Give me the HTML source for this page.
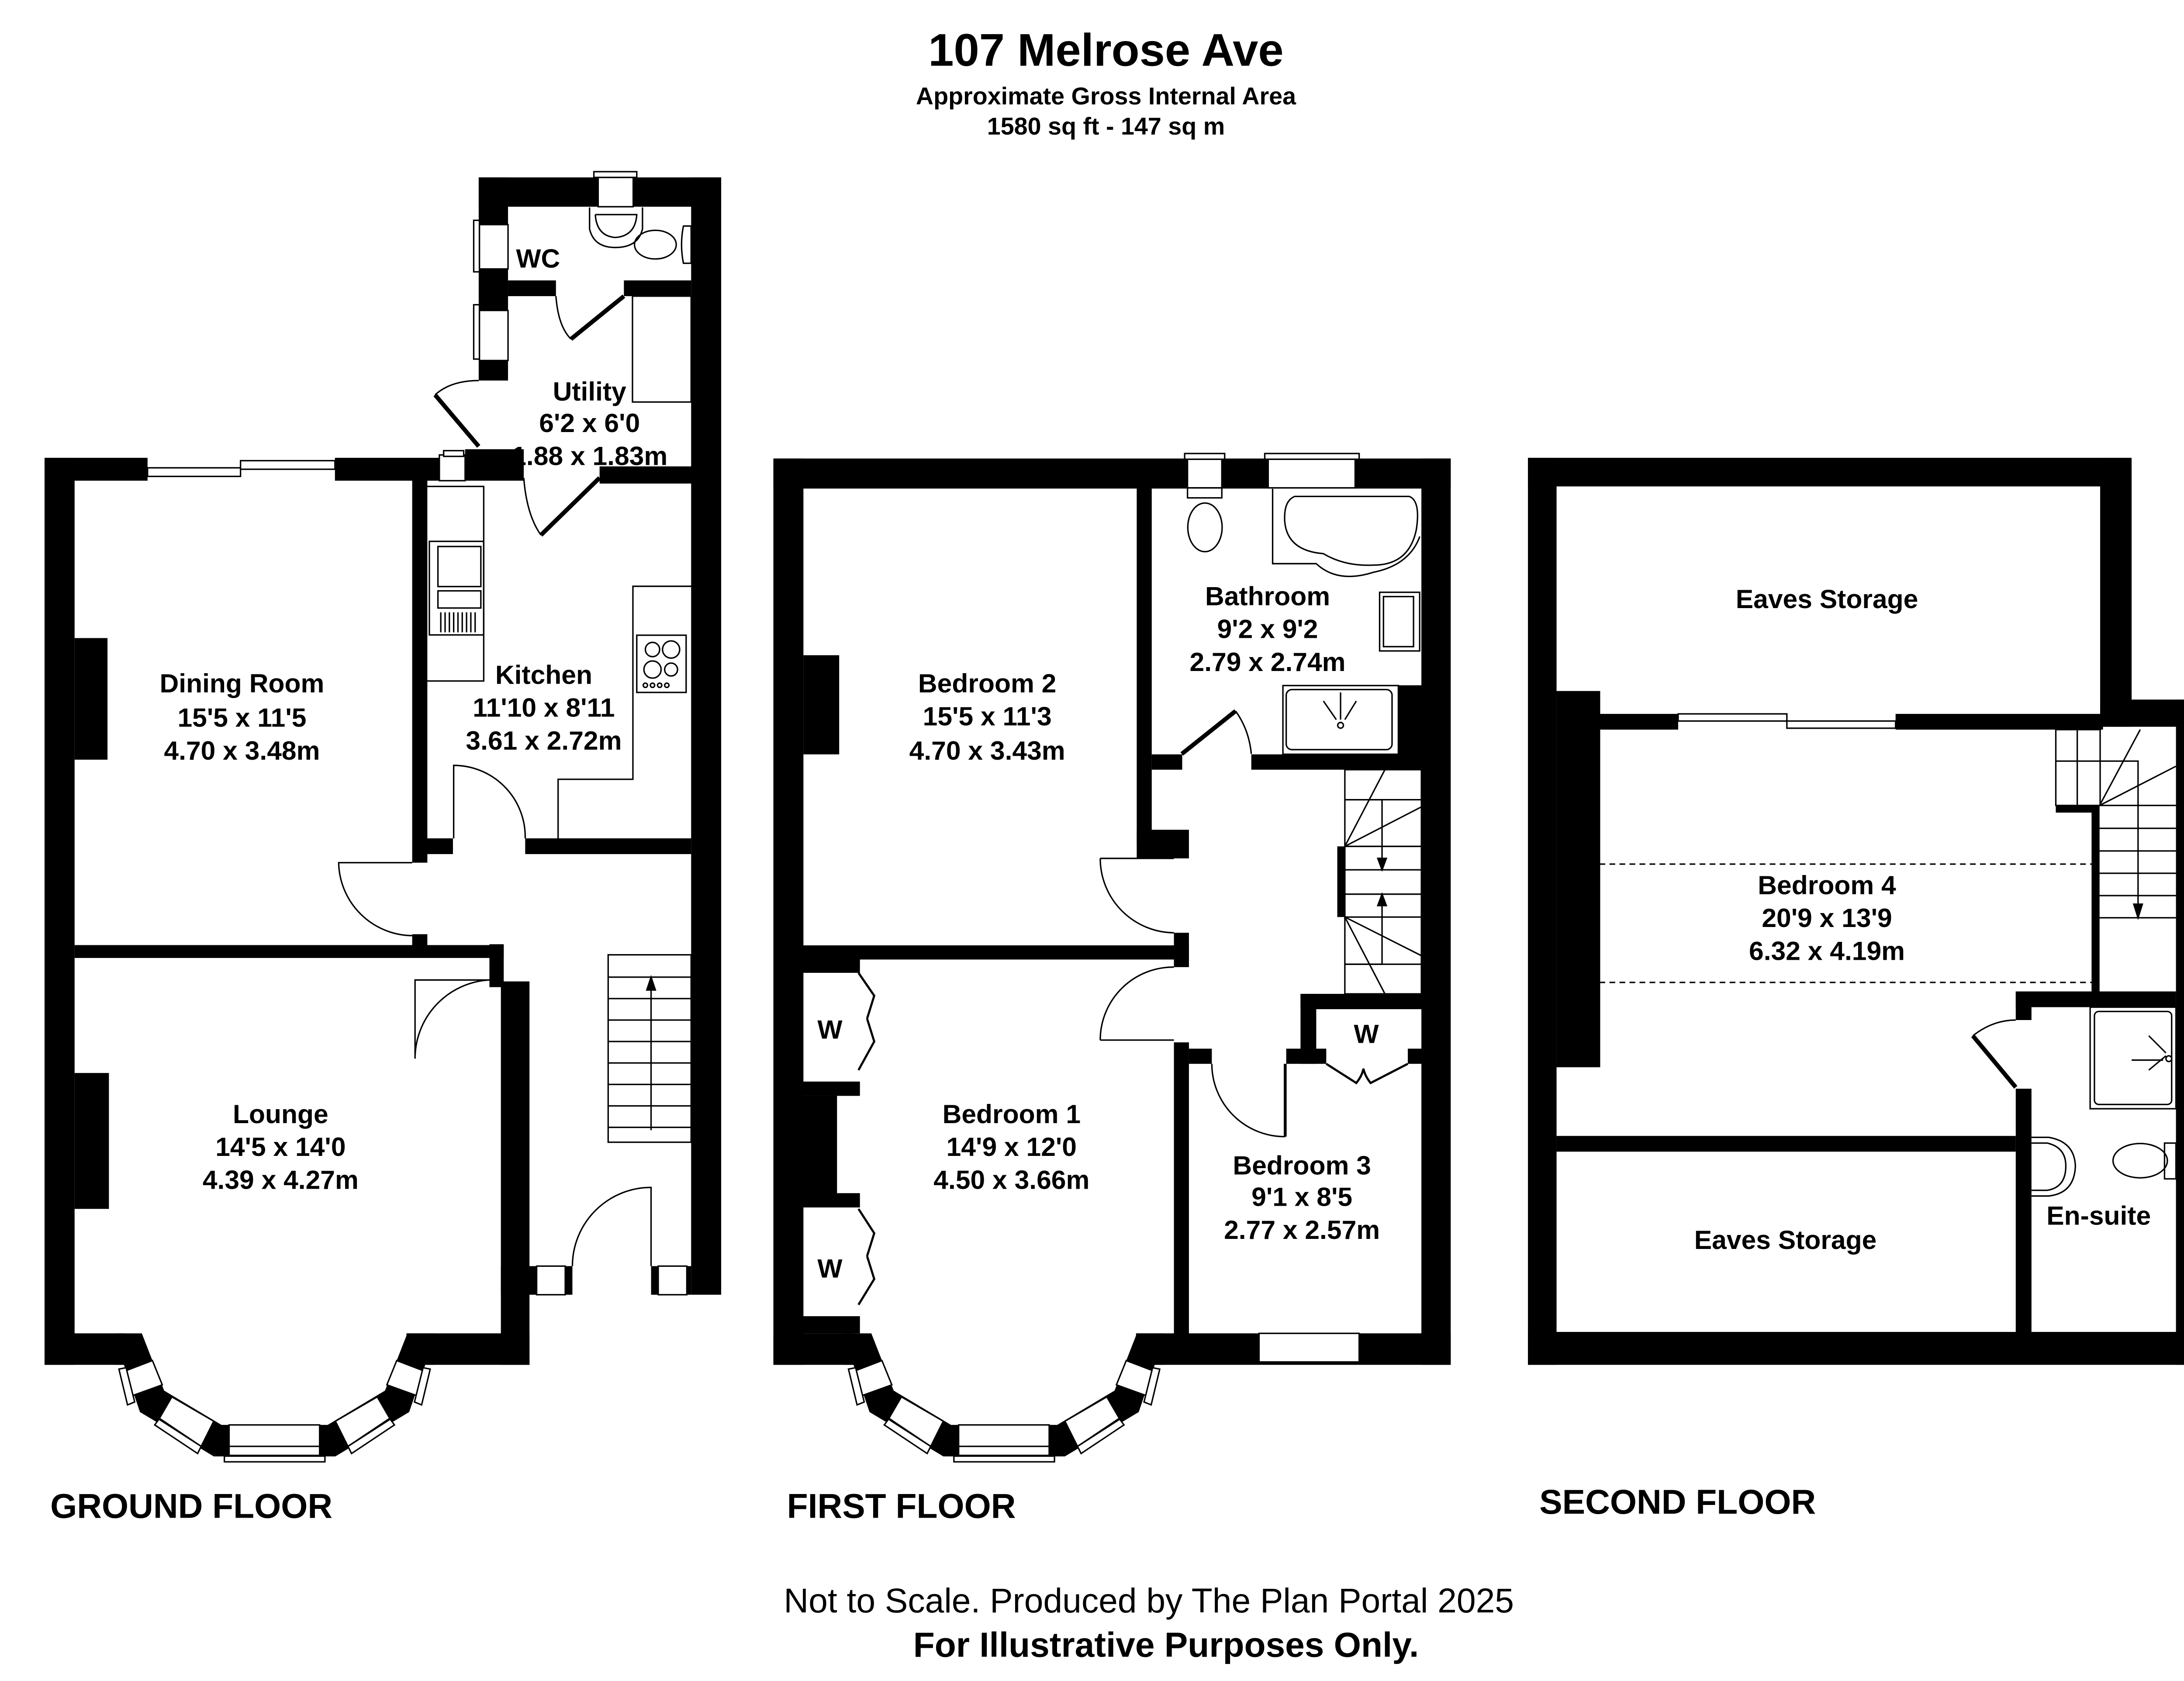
<!DOCTYPE html>
<html><head><meta charset="utf-8"><style>
html,body{margin:0;padding:0;background:#fff}
svg{display:block}
text{font-family:"Liberation Sans",Arial,sans-serif;font-weight:bold;fill:#000;text-anchor:middle}
</style></head><body>
<svg width="5136" height="3848" viewBox="0 0 1568 1175" xmlns="http://www.w3.org/2000/svg">
<rect width="1568" height="1175" fill="#fff"/>
<text x="773" y="46" font-size="32">107 Melrose Ave</text>
<text x="773" y="73" font-size="17">Approximate Gross Internal Area</text>
<text x="773" y="94" font-size="17">1580 sq ft - 147 sq m</text>

<defs>
<g id="bayhalf">
<polygon points="80,932 99,932 114.6,972 154.7,996 191.8,996 191.8,1018 149.3,1018 97.7,987 86.5,954 80,954" fill="#000"/>
<polygon points="106.4,951 113.3,968 92.8,975.4 86,958.8" fill="#fff" stroke="#000" stroke-width="1"/>
<polygon points="88,956 83,957 89,982 94,980" fill="#fff" stroke="#000" stroke-width="1"/>
<polygon points="120,976.4 149.3,993.4 140.5,1011 111.3,991.4" fill="#fff" stroke="#000" stroke-width="1"/>
<polygon points="111,992 108,996 138,1016 140.5,1011" fill="#fff" stroke="#000" stroke-width="1"/>
</g>
<g id="bay">
<use href="#bayhalf"/>
<use href="#bayhalf" transform="matrix(-1 0 0 1 383.6 0)"/>
<rect x="160" y="996" width="63.3" height="21.3" fill="#fff" stroke="#000" stroke-width="1"/>
<line x1="160" y1="1011" x2="223.3" y2="1011" stroke="#000" stroke-width="1"/>
<rect x="156.7" y="1017.8" width="70.3" height="4" fill="#fff" stroke="#000" stroke-width="1"/>
</g>
</defs>

<g fill="#000">
<!-- GROUND FLOOR -->
<rect x="31" y="320" width="21" height="634"/>
<rect x="31" y="320" width="72" height="16"/>
<rect x="234" y="320" width="73" height="16"/>
<rect x="325" y="314" width="41" height="22"/>
<rect x="419" y="326" width="65" height="12"/>
<rect x="334.5" y="124" width="169.5" height="20.5"/>
<rect x="334.5" y="124" width="20.5" height="142"/>
<rect x="483" y="124" width="21" height="781"/>
<rect x="355" y="196" width="33.5" height="11"/>
<rect x="436" y="196" width="47" height="11"/>
<rect x="288" y="334" width="10.6" height="269"/>
<rect x="298" y="586" width="18.5" height="11"/>
<rect x="367" y="586" width="116" height="11"/>
<rect x="288" y="653" width="10.6" height="10"/>
<rect x="52" y="660.6" width="300" height="9"/>
<rect x="342" y="660" width="10" height="30"/>
<rect x="350" y="686" width="20" height="268"/>
<rect x="350" y="885" width="50" height="20"/>
<rect x="455" y="885" width="28" height="20"/>
<rect x="31" y="932" width="56" height="22"/>
<rect x="284" y="932" width="86" height="22"/>
<rect x="52" y="446" width="23" height="85"/>
<rect x="52" y="750" width="24" height="95"/>
<!-- FIRST FLOOR -->
<rect x="540.5" y="320.5" width="21" height="633.5"/>
<rect x="540.5" y="320.5" width="473.5" height="21"/>
<rect x="993.5" y="320.5" width="20.5" height="633.5"/>
<rect x="540.5" y="932" width="56" height="22"/>
<rect x="794" y="932" width="220" height="22"/>
<rect x="794.5" y="341" width="10.5" height="250"/>
<rect x="794.5" y="580" width="36.5" height="20"/>
<rect x="820.5" y="652" width="10.5" height="24"/>
<rect x="561" y="660.8" width="270" height="9.9"/>
<rect x="820.5" y="728.6" width="10.5" height="204"/>
<rect x="805" y="527.3" width="21.3" height="10.7"/>
<rect x="874.6" y="527.3" width="119" height="10.7"/>
<rect x="977" y="479" width="17" height="59"/>
<rect x="934.7" y="591.6" width="5.5" height="49.4"/>
<rect x="909" y="694.7" width="85" height="10.7"/>
<rect x="909" y="694.7" width="11" height="48.9"/>
<rect x="831" y="733" width="16" height="10.6"/>
<rect x="899" y="733" width="28" height="10.6"/>
<rect x="984" y="733" width="10" height="10.6"/>
<rect x="561.5" y="458" width="25" height="69.3"/>
<rect x="561" y="668" width="40" height="12"/>
<rect x="561" y="756" width="40" height="10"/>
<rect x="561" y="766" width="24" height="70"/>
<rect x="561" y="834" width="40" height="10"/>
<rect x="561" y="920" width="40" height="12"/>
<!-- SECOND FLOOR -->
<rect x="1068" y="320" width="420" height="20"/>
<rect x="1068" y="320" width="20" height="634"/>
<rect x="1468" y="320" width="22" height="188"/>
<rect x="1468" y="489" width="74" height="19"/>
<rect x="1521" y="489" width="21" height="465"/>
<rect x="1068" y="931" width="474" height="23"/>
<rect x="1088" y="483" width="30.5" height="263"/>
<rect x="1118" y="499" width="55" height="11"/>
<rect x="1325" y="499" width="145" height="11"/>
<rect x="1437" y="563" width="30" height="5"/>
<rect x="1462" y="563" width="5.6" height="135"/>
<rect x="1409" y="693" width="112" height="11"/>
<rect x="1409" y="693" width="11" height="20"/>
<rect x="1409" y="761" width="11" height="171"/>
<rect x="1088" y="794" width="321" height="11"/>
</g>

<use href="#bay"/>
<use href="#bay" transform="translate(510 0)"/>

<g fill="#fff" stroke="#000" stroke-width="1">
<!-- windows ground -->
<rect x="103" y="327" width="65" height="6"/><rect x="168" y="322" width="66" height="6"/>
<rect x="307" y="318" width="18" height="18"/><rect x="310" y="315" width="14" height="4"/>
<rect x="418" y="124" width="24.5" height="20.5"/><rect x="415" y="120" width="30" height="4"/>
<rect x="335" y="157" width="20" height="31"/><rect x="331" y="154" width="4" height="36"/>
<rect x="335" y="217" width="20" height="35"/><rect x="331" y="213" width="4" height="38"/>
<rect x="375" y="885" width="20" height="20"/><rect x="460" y="885" width="20" height="20"/>
<!-- windows first -->
<rect x="830" y="321" width="24" height="20"/><rect x="828" y="317" width="28" height="4"/>
<rect x="886.4" y="321" width="60.8" height="20"/><rect x="884" y="317" width="66" height="4"/>
<rect x="880" y="932" width="70" height="20"/>
<!-- second window -->
<rect x="1173" y="499" width="76" height="5"/><rect x="1249" y="504" width="76" height="5"/>
</g>

<g fill="none" stroke="#000" stroke-width="1">
<!-- ground doors -->
<path d="M334.5,266 Q315,266 304,276"/>
<path d="M304,276 L334.5,312" stroke-width="3"/>
<path d="M388.5,207 Q390,228 399,237"/>
<path d="M399,237 L436,207" stroke-width="3"/>
<path d="M419,334 L378,374" stroke-width="3"/>
<path d="M366,334 Q368,360 378,374"/>
<path d="M317,586 L317,535 A50,50 0 0 1 367,586"/>
<path d="M288,603 L236.6,603 A52,52 0 0 0 288,654"/>
<path d="M342,685 L290,685 L290,740 A55,55 0 0 1 342,685"/>
<path d="M455,885 L455,830 A55,55 0 0 0 400,885"/>
<!-- utility / wc fixtures -->
<rect x="442" y="207" width="41" height="74"/>
<path d="M412,145 L412,160 Q415,173 430,173 Q446,173 449,160 L449,145"/>
<path d="M416,150 L445,150 Q444,165 430,166 Q417,165 416,150"/>
<ellipse cx="458" cy="171" rx="14.6" ry="10"/>
<path d="M477.6,158 Q475,171 477.6,184 L483,184 L483,158 Z"/>
<!-- kitchen -->
<path d="M298.6,340 L338,340 L338,476 L298.6,476"/>
<rect x="300" y="378.4" width="38" height="65.4"/>
<rect x="306" y="382" width="30" height="28"/><rect x="306" y="413" width="30" height="12"/>
<path d="M308,428 V442 M311,428 V442 M314,428 V442 M317,428 V442 M320,428 V442 M323,428 V442 M326,428 V442 M329,428 V442 M332,428 V442"/>
<path d="M484,409.8 L442.3,409.8 L442.3,544.7 L390,544.7 L390,586"/>
<rect x="445" y="444" width="34.5" height="40"/>
<circle cx="456" cy="454" r="5"/><circle cx="469" cy="454" r="6"/><circle cx="456" cy="468" r="6"/><circle cx="469" cy="468" r="4.5"/>
<circle cx="451" cy="479" r="1.5"/><circle cx="456" cy="479" r="1.5"/><circle cx="461" cy="479" r="1.5"/><circle cx="466" cy="479" r="1.5"/>
<!-- ground stairs -->
<rect x="425" y="667.4" width="58" height="131"/>
<path d="M425,683 H483 M425,698 H483 M425,713 H483 M425,728 H483 M425,743 H483 M425,758 H483 M425,773 H483 M425,788 H483 M455,790 V685"/>
<path d="M452,692 L455,683 L458,692 Z" fill="#000"/>
<!-- first floor doors -->
<path d="M769,600 L820.5,600 M769,600 A52,52 0 0 0 820.5,652"/>
<path d="M769,727 L820.5,727 M769,727 A51,51 0 0 1 820.5,676"/>
<path d="M826,527 L863.6,497" stroke-width="3"/>
<path d="M863.6,497 Q873,510 874.6,527"/>
<path d="M898.3,743.6 L898.3,794.5" stroke-width="2"/>
<path d="M847,743.6 A51,51 0 0 0 898.3,794.5"/>
<path d="M927,743.6 L948,757 Q952,752 953,747 Q954,752 958,757 L984,743.6" stroke-width="1.5"/>
<path d="M600,680 L611,696 L606,712 M600,748 L611,728 L606,712" stroke-width="1.5"/>
<path d="M600,845 L611,862 L606,878 M600,912 L611,894 L606,878" stroke-width="1.5"/>
<!-- first floor stairs -->
<rect x="940" y="538" width="53.5" height="156.7"/>
<path d="M940,559 H993.5 M940,591.6 H993.5 M940,608 H993.5 M940,625 H993.5 M940,641 H993.5 M940,674 H993.5"/>
<path d="M940,591.6 L968,538 M940,591.6 L993.5,564 M940,641 L993.5,668 M940,641 L968,694.7"/>
<path d="M966,559 L966,608 M966,625 L966,674 L940,674 M940,559 L966,559"/>
<path d="M963,600 L966,608 L969,600 Z M963,633 L966,625 L969,633 Z" fill="#000"/>
<!-- bathroom -->
<rect x="830" y="341" width="24" height="7"/>
<ellipse cx="842.2" cy="368.6" rx="12" ry="17"/>
<path d="M889.5,341.7 L889.5,394 L920,394 Q935,408 960,400 Q985,395 992.4,375 M889.5,394 L889.5,341.7"/>
<path d="M905,347 L985,347 Q993,350 990,370 Q985,395 960,395 Q940,396 925,387 Q900,385 898,365 Q897,350 905,347 Z"/>
<rect x="964.3" y="414" width="28" height="41"/><rect x="967" y="417" width="21" height="35"/>
<rect x="896.7" y="479.2" width="80.7" height="48"/>
<rect x="899" y="482" width="74" height="42" rx="4"/>
<path d="M937,484 V503 M925,490 L934,503 M948,490 L940,503"/><circle cx="937" cy="507" r="2"/>
<!-- second floor -->
<path d="M1118,604 H1462 M1118,686.7 H1462" stroke-dasharray="4,3"/>
<rect x="1437" y="510" width="31" height="53"/>
<path d="M1452,510 V563 M1437,532 H1468 M1467.6,532 H1494.5 V640 M1467.6,563 H1521 M1467.6,579 H1521 M1467.6,594.8 H1521 M1467.6,610.4 H1521 M1467.6,626 H1521 M1467.6,641.5 H1521"/>
<path d="M1467.6,563 L1496,510 M1467.6,563 L1521,535.6"/>
<path d="M1491.5,632 L1494.5,641.5 L1497.5,632 Z" fill="#000"/>
<path d="M1379,724 L1409,760" stroke-width="3"/>
<path d="M1379,724 Q1393,713 1409,713"/>
<rect x="1461" y="704" width="60" height="71"/>
<rect x="1464" y="707" width="54" height="65" rx="3"/>
<path d="M1502,724 L1514,736 M1502,748 L1514,738 M1490,741 H1512"/><circle cx="1516" cy="740" r="2"/>
<path d="M1420,795 L1432,795 Q1450,798 1450.7,815 Q1450,834 1432,836 L1420,836"/>
<path d="M1420,799 L1431,799 Q1444,802 1444,815 Q1444,830 1431,832 L1420,832"/>
<ellipse cx="1496" cy="811.3" rx="19" ry="12"/>
<rect x="1513" y="799" width="8" height="25"/>
</g>

<g font-size="18.5">
<text x="376" y="187">WC</text>
<text x="412" y="280">Utility</text><text x="412" y="302">6'2 x 6'0</text><text x="412" y="325">1.88 x 1.83m</text>
<text x="169" y="484">Dining Room</text><text x="169" y="508">15'5 x 11'5</text><text x="169" y="531">4.70 x 3.48m</text>
<text x="380" y="478">Kitchen</text><text x="380" y="501">11'10 x 8'11</text><text x="380" y="524">3.61 x 2.72m</text>
<text x="196" y="785">Lounge</text><text x="196" y="808">14'5 x 14'0</text><text x="196" y="831">4.39 x 4.27m</text>
<text x="690" y="484">Bedroom 2</text><text x="690" y="507">15'5 x 11'3</text><text x="690" y="531">4.70 x 3.43m</text>
<text x="886" y="423">Bathroom</text><text x="886" y="446">9'2 x 9'2</text><text x="886" y="469">2.79 x 2.74m</text>
<text x="707" y="785">Bedroom 1</text><text x="707" y="808">14'9 x 12'0</text><text x="707" y="831">4.50 x 3.66m</text>
<text x="910" y="821">Bedroom 3</text><text x="910" y="843">9'1 x 8'5</text><text x="910" y="866">2.77 x 2.57m</text>
<text x="580" y="726">W</text><text x="580" y="893">W</text><text x="955" y="729">W</text>
<text x="1277" y="425">Eaves Storage</text>
<text x="1277" y="625">Bedroom 4</text><text x="1277" y="648">20'9 x 13'9</text><text x="1277" y="671">6.32 x 4.19m</text>
<text x="1248" y="873">Eaves Storage</text>
<text x="1467" y="856">En-suite</text>
</g>
<g font-size="24">
<text x="35" y="1061" style="text-anchor:start">GROUND FLOOR</text>
<text x="550" y="1061" style="text-anchor:start">FIRST FLOOR</text>
<text x="1076" y="1058" style="text-anchor:start">SECOND FLOOR</text>
</g>
<text x="803" y="1127" font-size="24" style="font-weight:normal">Not to Scale. Produced by The Plan Portal 2025</text>
<text x="815" y="1158" font-size="24.5">For Illustrative Purposes Only.</text>
</svg>
</body></html>
